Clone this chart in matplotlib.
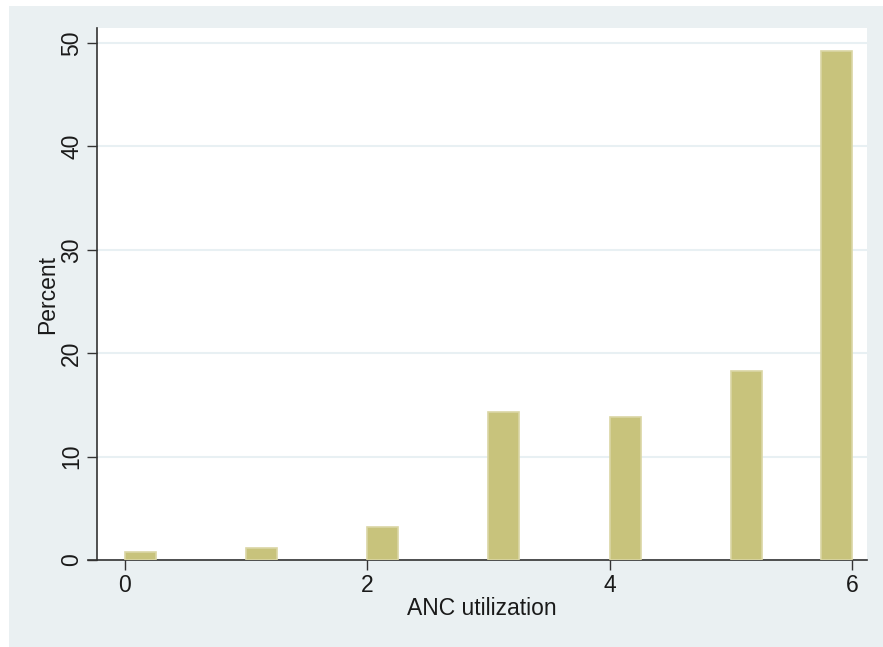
import matplotlib
matplotlib.use("Agg")
import matplotlib.pyplot as plt
from matplotlib.patches import Rectangle
from matplotlib.lines import Line2D

# Data: ANC utilization histogram (percent)
bin_starts = [0, 1, 2, 3, 4, 5, 5.745]
percent = [0.75, 1.15, 3.2, 14.3, 13.8, 18.3, 49.2]
bin_width = 0.255
x_ticks = [0, 2, 4, 6]
y_ticks = [0, 10, 20, 30, 40, 50]

plt.rcParams['font.family'] = ['Liberation Sans', 'DejaVu Sans']

W, H = 883, 647
fig = plt.figure(figsize=(W / 100, H / 100), dpi=100, facecolor='white')
bg = '#EAF0F2'
fig.add_artist(Rectangle((9 / W, 0), 1 - 9 / W, (H - 6) / H,
                         transform=fig.transFigure, facecolor=bg,
                         edgecolor='none', zorder=-10))

left, right, top, bottom = 97, 867, 28, 560
ax = fig.add_axes([left / W, (H - bottom) / H, (right - left) / W, (bottom - top) / H])
ax.set_zorder(1)
ax.set_facecolor('white')

ax.bar(bin_starts, percent, width=bin_width, align='edge',
       color='#C8C37C', edgecolor='#DAD6A4', linewidth=1.2, zorder=3)

fs = 16.5
ax.set_xlim(-0.231, 6.124)
ax.set_ylim(0, 51.45)
ax.set_xticks(x_ticks)
ax.set_yticks(y_ticks)
ax.set_xticklabels([str(t) for t in x_ticks], fontsize=fs, color='#1a1a1a')
ax.set_yticklabels([str(t) for t in y_ticks], fontsize=fs, color='#1a1a1a',
                   rotation=90, va='center')
ax.tick_params(axis='both', length=7, width=1, color='#333333', pad=3)
ax.yaxis.grid(True, color='#E8F0F3', linewidth=1.5, zorder=0)
ax.set_axisbelow(True)

for s in ['top', 'right']:
    ax.spines[s].set_visible(False)
for s in ['left', 'bottom']:
    ax.spines[s].set_color('#333333')
    ax.spines[s].set_linewidth(1.2)

# x axis line extends slightly left of the y axis
fig.add_artist(Line2D([88 / W, left / W], [(H - bottom) / H] * 2,
                      transform=fig.transFigure, color='#333333', linewidth=1.2,
                      zorder=5))

ax.set_xlabel('ANC utilization', fontsize=fs, color='#1a1a1a', labelpad=0)
ax.set_ylabel('Percent', fontsize=fs, color='#1a1a1a', labelpad=1)

fig.savefig('out.png', dpi=100, facecolor='white')
